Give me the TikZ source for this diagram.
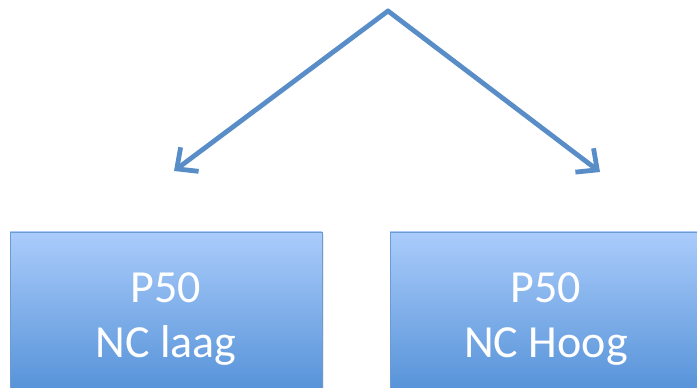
\documentclass[tikz,border=0pt]{standalone}
\usepackage{fontspec}
\setmainfont{Carlito}
\usetikzlibrary{arrows.meta}
\usetikzlibrary{shadows}
\definecolor{boxtop}{RGB}{170,204,251}
\definecolor{boxbottom}{RGB}{78,141,213}
\definecolor{boxline}{RGB}{108,155,212}
\definecolor{arrowblue}{RGB}{88,141,199}

\begin{document}
\begin{tikzpicture}[x=1pt, y=1pt,
    box/.style={rectangle, draw=boxline, line width=0.8pt,
        top color=boxtop, bottom color=boxbottom,
        minimum width=312, minimum height=174,
        text=white, align=center,
        font=\fontsize{46}{55}\selectfont,
        drop shadow={opacity=0.15, shadow xshift=2pt, shadow yshift=-2pt}},
    split/.style={-{Straight Barb[length=16pt, width=30pt]}, arrowblue,
        line width=4.8pt, line cap=round, line join=round}]

% Frame
\useasboundingbox (0,0) rectangle (697,388);
\clip (0,0) rectangle (697,388);

% Top point and arrow ends
\coordinate (top) at (388,377);
\coordinate (lend) at (174,217);
\coordinate (rend) at (600,216);

% Boxes
\node[box] (lbox) at (166,69) {P50\\NC laag};
\node[box] (rbox) at (546,69) {P50\\NC Hoog};

% Arrows
\draw[split] (top) -- (lend);
\draw[split] (top) -- (rend);

\end{tikzpicture}
\end{document}
